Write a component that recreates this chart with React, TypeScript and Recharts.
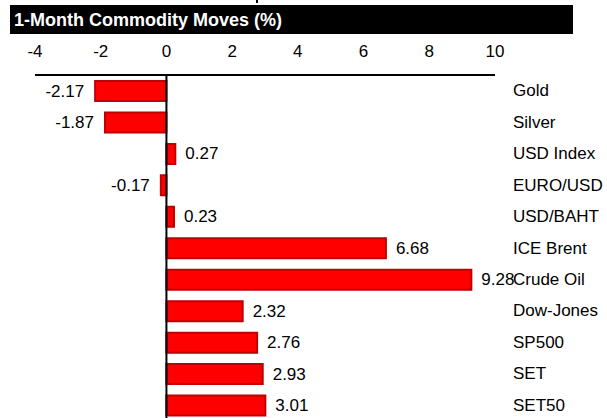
import { BarChart, Bar, XAxis, YAxis, ReferenceLine, LabelList } from 'recharts'

const categories = [
  'Gold',
  'Silver',
  'USD Index',
  'EURO/USD',
  'USD/BAHT',
  'ICE Brent',
  'Crude Oil',
  'Dow-Jones',
  'SP500',
  'SET',
  'SET50',
]
const moves = [-2.17, -1.87, 0.27, -0.17, 0.23, 6.68, 9.28, 2.32, 2.76, 2.93, 3.01]
const xTicks = [-4, -2, 0, 2, 4, 6, 8, 10]

const data = categories.map((name, i) => ({ name, value: moves[i] }))

const FONT = '"Liberation Sans", Arial, sans-serif'

function CategoryTick(props: any) {
  const { x, y, payload } = props
  return (
    <text x={x} y={y} textAnchor="start" dominantBaseline="central" fontSize={17} fontFamily={FONT} fill="#000">
      {payload.value}
    </text>
  )
}

function ValueLabel(props: any) {
  const { x, y, width, height, value } = props
  const left = Math.min(x, x + width)
  const right = Math.max(x, x + width)
  const neg = value < 0
  return (
    <text
      x={neg ? left - 11 : right + 10}
      y={y + height / 2}
      textAnchor={neg ? 'end' : 'start'}
      dominantBaseline="central"
      fontSize={17}
      fontFamily={FONT}
      fill="#000"
    >
      {value.toFixed(2)}
    </text>
  )
}

export default function App() {
  return (
    <div style={{ position: 'absolute', left: 0, top: 0, width: 607, height: 418, overflow: 'hidden', background: '#fff' }}>
      <div style={{ position: 'absolute', left: 256, top: 0, width: 2, height: 3, background: '#000' }} />
      <div
        style={{
          position: 'absolute',
          left: 10,
          top: 5,
          width: 563,
          height: 29,
          background: '#000',
          color: '#fff',
          fontFamily: FONT,
          fontWeight: 'bold',
          fontSize: 18,
          lineHeight: '31px',
          paddingLeft: 4,
          boxSizing: 'border-box',
          whiteSpace: 'nowrap',
        }}
      >
        1-Month Commodity Moves (%)
      </div>
      <BarChart
        width={607}
        height={421}
        data={data}
        layout="vertical"
        margin={{ top: 45, right: 0, bottom: 0, left: 35 }}
        barSize={20}
      >
        <XAxis
          type="number"
          orientation="top"
          domain={[-4, 10]}
          ticks={xTicks}
          height={30}
          tickLine={false}
          tickSize={0}
          tickMargin={18}
          axisLine={{ stroke: '#000', strokeWidth: 2 }}
          tick={{ fontSize: 17, fontFamily: FONT, fill: '#000' }}
        />
        <YAxis
          type="category"
          dataKey="name"
          orientation="right"
          width={112}
          axisLine={false}
          tickLine={false}
          tickSize={0}
          tickMargin={18}
          tick={<CategoryTick />}
          interval={0}
        />
        <Bar dataKey="value" fill="#ff0000" stroke="#c00000" strokeWidth={2} isAnimationActive={false}>
          <LabelList dataKey="value" content={<ValueLabel />} />
        </Bar>
        <ReferenceLine x={0} stroke="#000" strokeWidth={2} />
      </BarChart>
    </div>
  )
}
